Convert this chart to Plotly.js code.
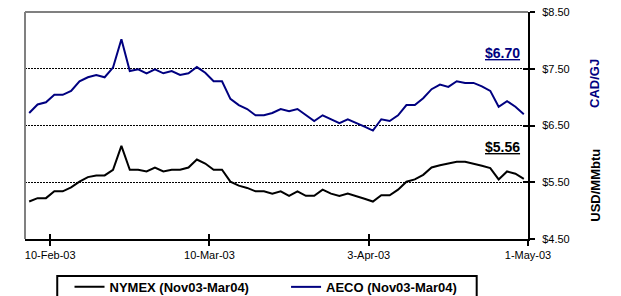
<!DOCTYPE html>
<html>
<head>
<meta charset="utf-8">
<script src="https://cdn.plot.ly/plotly-3.0.1.min.js"></script>
<style>
  html, body { margin: 0; padding: 0; background: #fff; }
  #chart { width: 621px; height: 296px; }
</style>
</head>
<body>
<div id="chart"></div>
<script>
// Trading-day index along the category axis (60 observations)
var dayIndex = [];
for (var i = 0; i < 60; i++) dayIndex.push(i);

var seriesNames = ['NYMEX (Nov03-Mar04)', 'AECO (Nov03-Mar04)'];

var nymex = [5.16, 5.22, 5.22, 5.34, 5.34, 5.41, 5.51, 5.59, 5.62, 5.62,
             5.72, 6.14, 5.72, 5.72, 5.69, 5.76, 5.69, 5.72, 5.72, 5.76,
             5.90, 5.83, 5.72, 5.72, 5.51, 5.44, 5.40, 5.34, 5.34, 5.30,
             5.34, 5.26, 5.34, 5.26, 5.26, 5.37, 5.30, 5.26, 5.30, 5.26,
             5.21, 5.16, 5.27, 5.27, 5.37, 5.51, 5.55, 5.63, 5.76, 5.80,
             5.83, 5.86, 5.86, 5.83, 5.79, 5.75, 5.55, 5.69, 5.65, 5.56];

var aeco = [6.72, 6.87, 6.91, 7.04, 7.04, 7.11, 7.28, 7.35, 7.39, 7.35,
            7.52, 8.02, 7.46, 7.49, 7.42, 7.49, 7.42, 7.46, 7.39, 7.42,
            7.53, 7.43, 7.28, 7.28, 6.97, 6.86, 6.79, 6.68, 6.68, 6.72,
            6.79, 6.75, 6.79, 6.69, 6.58, 6.68, 6.61, 6.54, 6.61, 6.55,
            6.48, 6.41, 6.61, 6.58, 6.68, 6.86, 6.86, 6.98, 7.14, 7.22,
            7.18, 7.28, 7.25, 7.25, 7.19, 7.11, 6.83, 6.93, 6.83, 6.70];

var xTickPos = [2.5, 21.5, 40.5, 59.5];
var xTickLabels = ['10-Feb-03', '10-Mar-03', '3-Apr-03', '1-May-03'];
var yTickVals = [4.5, 5.5, 6.5, 7.5, 8.5];
var yTickLabels = yTickVals.map(function (v) { return '$' + v.toFixed(2); });

var FONT = 'Liberation Sans, Arial, sans-serif';
var NAVY = '#000080';
var LEGFONT = { family: FONT, size: 13, color: '#000', weight: 'bold' };

var traces = [
  { x: dayIndex, y: nymex, name: seriesNames[0], type: 'scatter', mode: 'lines',
    line: { color: '#000000', width: 2 }, legend: 'legend' },
  { x: dayIndex, y: aeco, name: seriesNames[1], type: 'scatter', mode: 'lines',
    line: { color: NAVY, width: 2 }, legend: 'legend2' },
  { x: [null], y: [null], xaxis: 'x2', yaxis: 'y2', showlegend: false,
    hoverinfo: 'skip', type: 'scatter', mode: 'lines' }
];

var last = dayIndex.length - 1;

var layout = {
  width: 621, height: 296,
  margin: { l: 25, r: 93, t: 12, b: 57, autoexpand: false },
  paper_bgcolor: '#ffffff', plot_bgcolor: '#ffffff',
  font: { family: FONT, size: 11, color: '#000' },
  showlegend: true,
  legend: {
    orientation: 'h', x: 0.0885, y: -0.145, xanchor: 'left', yanchor: 'top',
    borderwidth: 0, bgcolor: 'rgba(0,0,0,0)', font: LEGFONT
  },
  legend2: {
    orientation: 'h', x: 0.519, y: -0.145, xanchor: 'left', yanchor: 'top',
    borderwidth: 0, bgcolor: 'rgba(0,0,0,0)', font: LEGFONT
  },
  xaxis: {
    range: [-0.5, 59.5], tickmode: 'array', tickvals: xTickPos, ticktext: xTickLabels,
    showgrid: false, zeroline: false, showline: true, linecolor: '#000', linewidth: 2,
    ticks: 'outside', ticklen: 5, tickwidth: 2, tickcolor: '#000',
    tickfont: { family: FONT, size: 11, color: '#000' }
  },
  yaxis: {
    range: [4.5, 8.5], side: 'right', tickmode: 'array', tickvals: yTickVals, ticktext: yTickLabels,
    showgrid: true, gridcolor: '#000', gridwidth: 1, griddash: '2px,1px',
    zeroline: false, showline: true, linecolor: '#000', linewidth: 2,
    ticks: 'outside', ticklen: 5, tickwidth: 2, tickcolor: '#000',
    ticklabelstandoff: 5,
    tickfont: { family: FONT, size: 11, color: '#000' }
  },
  xaxis2: {
    overlaying: 'x', anchor: 'y2', range: [-0.5, 59.5], tickmode: 'array', tickvals: xTickPos,
    showticklabels: false, showgrid: false, zeroline: false, showline: false,
    ticks: 'inside', ticklen: 5, tickwidth: 2, tickcolor: '#000'
  },
  yaxis2: {
    overlaying: 'y', anchor: 'x2', side: 'right', range: [4.5, 8.5], tickmode: 'array', tickvals: yTickVals,
    showticklabels: false, showgrid: false, zeroline: false, showline: false,
    ticks: 'inside', ticklen: 5, tickwidth: 2, tickcolor: '#000'
  },
  shapes: [
    { type: 'line', xref: 'paper', yref: 'paper', x0: 0, x1: 1, y0: 1, y1: 1,
      line: { color: '#808080', width: 2 } },
    { type: 'line', xref: 'paper', yref: 'paper', x0: 0, x1: 0, y0: 0, y1: 1,
      line: { color: '#808080', width: 2 } },
    // legend frame (cut by the bottom edge, as in the reference)
    { type: 'rect', xref: 'paper', yref: 'paper', x0: 0.0641, x1: 0.898, y0: -0.1628, y1: -0.30,
      line: { color: '#000', width: 2 }, fillcolor: 'rgba(0,0,0,0)', layer: 'below' }
  ],
  annotations: [
    { xref: 'x', yref: 'y', x: 56.4, y: 7.78, showarrow: false,
      text: '<u>$' + aeco[last].toFixed(2) + '</u>',
      font: { family: FONT, size: 14, color: NAVY, weight: 'bold' } },
    { xref: 'x', yref: 'y', x: 56.4, y: 6.12, showarrow: false,
      text: '<u>$' + nymex[last].toFixed(2) + '</u>',
      font: { family: FONT, size: 14, color: '#000', weight: 'bold' } },
    { xref: 'paper', yref: 'paper', x: 1.1325, y: 0.686, xanchor: 'center', yanchor: 'middle',
      showarrow: false, textangle: -90,
      text: 'CAD/GJ', font: { family: FONT, size: 13, color: NAVY, weight: 'bold' } },
    { xref: 'paper', yref: 'paper', x: 1.1325, y: 0.2376, xanchor: 'center', yanchor: 'middle',
      showarrow: false, textangle: -90,
      text: 'USD/MMbtu', font: { family: FONT, size: 13, color: '#000', weight: 'bold' } }
  ]
};

Plotly.newPlot('chart', traces, layout, { displayModeBar: false, staticPlot: true });
</script>
</body>
</html>
